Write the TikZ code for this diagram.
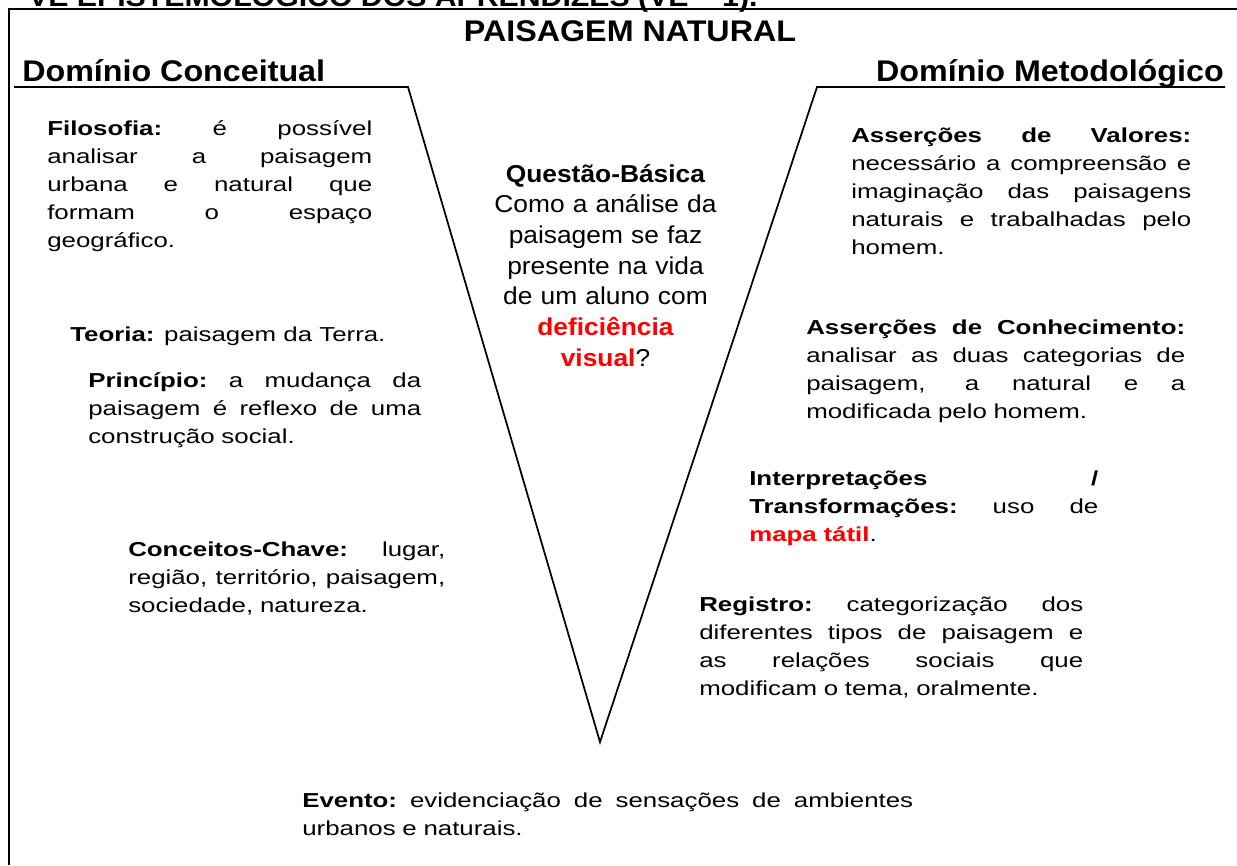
\documentclass[tikz,border=0pt]{standalone}
\usepackage{fontspec}
\setmainfont{Liberation Sans}[FakeStretch=1.08]
\newfontfamily\bodyfam{Liberation Sans}[FakeStretch=1.28]

\newcommand{\jl}[2]{\makebox[#1pt][s]{\spaceskip=.28em plus 1fil\xspaceskip=.28em plus 1fil\relax #2}}
\newcommand{\lb}[1]{\textbf{#1}\hspace{.28em plus 1fil}}
\newcommand{\bodyfont}{\bodyfam\fontsize{15.15}{21}\selectfont}
\newcommand{\askfont}{\fontsize{18.3}{23}\selectfont}
\newcommand{\headfont}{\fontsize{22.4}{26}\selectfont\bfseries}

\begin{document}
\begin{tikzpicture}[x=0.75pt,y=-0.75pt]
  \useasboundingbox (0,0) rectangle (1237,865);
  \clip (0,0) rectangle (1237,865);

  \coordinate (fr1) at (1237,9);
  \coordinate (fr2) at (9,9);
  \coordinate (fr3) at (9,865);
  \draw[line width=1.5pt] (fr1) -- (fr2) -- (fr3);

  \coordinate (lt) at (14,87);
  \coordinate (lc) at (408,87);
  \coordinate (vt) at (600,742);
  \coordinate (rc) at (817,87);
  \coordinate (rt) at (1225,87);
  \draw[line width=1.3pt] (lt) -- (lc) -- (vt) -- (rc) -- (rt);

  \begin{scope}[every node/.style={inner sep=0pt, font=\headfont}]
    \node[anchor=base west, font=\fontsize{21}{26}\selectfont\bfseries] (cut) at (28,6)
      {VE EPISTEMOLÓGICO DOS APRENDIZES (VE – 1).};
    \node[anchor=base]      (title) at (630,41)   {PAISAGEM NATURAL};
    \node[anchor=base west] (dconc) at (22,81)    {Domínio Conceitual};
    \node[anchor=base east] (dmet)  at (1224,81)  {Domínio Metodológico};
  \end{scope}

  \begin{scope}[every node/.style={inner sep=0pt, font=\bodyfont, align=left, anchor=base west}]
    \node[text width=243.75pt] (filo) at (47,135)
      {\jl{243.75}{\lb{Filosofia:}é possível}\\\jl{243.75}{analisar a paisagem}\\
       \jl{243.75}{urbana e natural que}\\\jl{243.75}{formam o espaço}\\geográfico.};
    \node (teoria) at (70,341) {\textbf{Teoria:} paisagem da Terra.};
    \node[text width=249.75pt] (princ) at (88,387)
      {\jl{249.75}{\lb{Princípio:}a mudança da}\\\jl{249.75}{paisagem é reflexo de uma}\\construção social.};
    \node[text width=237.75pt] (conc) at (128,556)
      {\jl{237.75}{\lb{Conceitos-Chave:}lugar,}\\\jl{237.75}{região, território, paisagem,}\\sociedade, natureza.};

    \node[text width=255pt] (valor) at (851,142)
      {\jl{255}{\textbf{Asserções de Valores:}}\\\jl{255}{necessário a compreensão e}\\
       \jl{255}{imaginação das paisagens}\\\jl{255}{naturais e trabalhadas pelo}\\homem.};
    \node[text width=284.25pt] (conhec) at (806,334)
      {\jl{284.25}{\textbf{Asserções de Conhecimento:}}\\\jl{284.25}{analisar as duas categorias de}\\
       \jl{284.25}{paisagem, a natural e a}\\modificada pelo homem.};
    \node[text width=261.75pt] (interp) at (749,485)
      {\jl{261.75}{\textbf{Interpretações /}}\\\jl{261.75}{\lb{Transformações:}uso de}\\\textcolor{red}{\textbf{mapa tátil}}.};
    \node[text width=288pt] (regis) at (699,611)
      {\jl{288}{\lb{Registro:}categorização dos}\\\jl{288}{diferentes tipos de paisagem e}\\
       \jl{288}{as relações sociais que}\\modificam o tema, oralmente.};

    \node[text width=458.25pt] (evento) at (302,807)
      {\jl{458.25}{\lb{Evento:}evidenciação de sensações de ambientes}\\urbanos e naturais.};
  \end{scope}

  \node[inner sep=0pt, font=\askfont, text width=200pt, align=center, anchor=base] (questao) at (605.5,182)
    {\textbf{Questão-Básica}\\Como a análise da\\paisagem se faz\\presente na vida\\de um aluno com\\
     \textcolor{red}{\textbf{deficiência}}\\\textcolor{red}{\textbf{visual}}?};

\end{tikzpicture}
\end{document}
